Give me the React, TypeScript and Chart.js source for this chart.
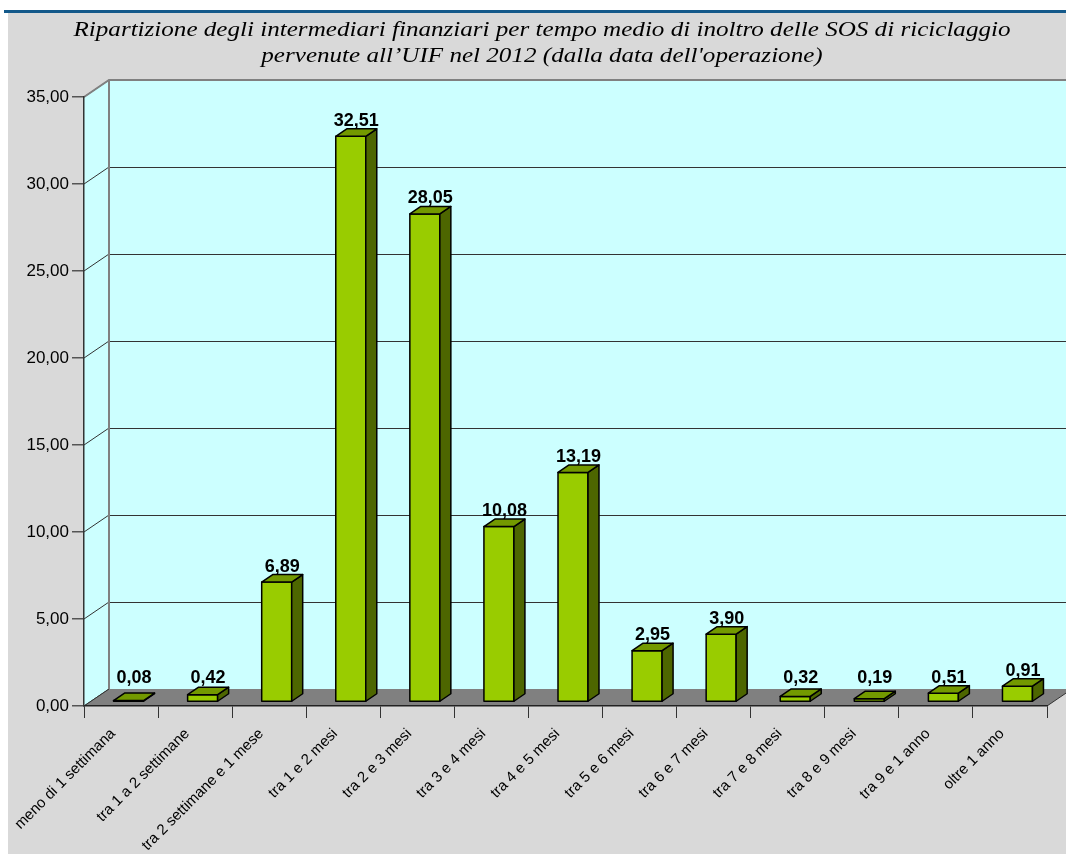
import React, { useEffect, useRef } from 'react';
import { Chart, registerables } from 'chart.js';

Chart.register(...registerables);

const categories: string[] = [
  'meno di 1 settimana',
  'tra 1 a 2 settimane',
  'tra 2 settimane e 1 mese',
  'tra 1 e 2 mesi',
  'tra 2 e 3 mesi',
  'tra 3 e 4 mesi',
  'tra 4 e 5 mesi',
  'tra 5 e 6 mesi',
  'tra 6 e 7 mesi',
  'tra 7 e 8 mesi',
  'tra 8 e 9 mesi',
  'tra 9 e 1 anno',
  'oltre 1 anno',
];

const values: number[] = [0.08, 0.42, 6.89, 32.51, 28.05, 10.08, 13.19, 2.95, 3.9, 0.32, 0.19, 0.51, 0.91];

const yMin = 0;
const yMax = 35;
const yStep = 5;

const titleLines: string[] = [
  'Ripartizione degli intermediari finanziari per tempo medio di inoltro delle SOS di riciclaggio',
  'pervenute all’UIF nel 2012 (dalla data dell\'operazione)',
];

const fmt = (v: number) => v.toFixed(2).replace('.', ',');

const W = 1066;
const H = 854;
const WALL_DX = 25;
const WALL_DY = 17;
const BAR_DX = 7.5;
const BAR_DY = 4;
const BAR_DEPTH_X = 11;
const BAR_DEPTH_Y = 7.5;

const threeD = {
  id: 'threeD',
  beforeDraw(chart: any) {
    const ctx: CanvasRenderingContext2D = chart.ctx;
    const { left, right, top, bottom } = chart.chartArea;
    const ys = chart.scales.y;
    ctx.save();
    ctx.fillStyle = '#ffffff';
    ctx.fillRect(0, 0, W, H);
    ctx.fillStyle = '#d9d9d9';
    ctx.fillRect(8, 13, W - 8, H - 13);
    ctx.fillStyle = '#13598a';
    ctx.fillRect(4, 10, W - 4, 3);

    // title
    ctx.font = 'italic 22px "Liberation Serif", "Times New Roman", serif';
    const w1 = ctx.measureText(titleLines[0]).width;
    const sx = 937 / w1;
    ctx.save();
    ctx.translate(542, 0);
    ctx.scale(sx, 1);
    ctx.fillStyle = '#000';
    ctx.textAlign = 'center';
    ctx.textBaseline = 'alphabetic';
    ctx.fillText(titleLines[0], 0, 36);
    ctx.fillText(titleLines[1], 0, 62);
    ctx.restore();

    const bl = left + WALL_DX;
    const br = right + WALL_DX;
    const bt = top - WALL_DY;
    const bb = bottom - WALL_DY;

    // back wall
    ctx.fillStyle = '#ccffff';
    ctx.fillRect(bl, bt, W - bl + 20, bb - bt);
    // left wall
    ctx.beginPath();
    ctx.moveTo(left, top);
    ctx.lineTo(bl, bt);
    ctx.lineTo(bl, bb);
    ctx.lineTo(left, bottom);
    ctx.closePath();
    ctx.fill();

    // gridlines
    for (let v = yMin; v <= yMax; v += yStep) {
      const yf = ys.getPixelForValue(v);
      const yb = yf - WALL_DY;
      ctx.strokeStyle = '#333';
      ctx.lineWidth = 1;
      if (v !== yMax) {
        ctx.beginPath();
        ctx.moveTo(bl, Math.round(yb) + 0.5);
        ctx.lineTo(W + 20, Math.round(yb) + 0.5);
        ctx.stroke();
      }
      ctx.beginPath();
      ctx.moveTo(left, yf);
      ctx.lineTo(bl, yb);
      ctx.stroke();
    }

    // floor
    ctx.fillStyle = '#808080';
    ctx.beginPath();
    ctx.moveTo(left, bottom);
    ctx.lineTo(bl, bb);
    ctx.lineTo(br, bb);
    ctx.lineTo(right, bottom);
    ctx.closePath();
    ctx.fill();
    ctx.strokeStyle = '#333';
    ctx.lineWidth = 1;
    ctx.beginPath();
    ctx.moveTo(left, bottom);
    ctx.lineTo(bl, bb);
    ctx.moveTo(right, bottom);
    ctx.lineTo(br, bb);
    ctx.stroke();

    // wall edges
    ctx.strokeStyle = '#808080';
    ctx.lineWidth = 2;
    ctx.beginPath();
    ctx.moveTo(left, top);
    ctx.lineTo(bl, bt);
    ctx.lineTo(W + 20, bt);
    ctx.moveTo(bl, bt);
    ctx.lineTo(bl, bb);
    ctx.stroke();
    ctx.restore();
  },
  afterDatasetsDraw(chart: any) {
    const ctx: CanvasRenderingContext2D = chart.ctx;
    const meta = chart.getDatasetMeta(0);
    const ys = chart.scales.y;
    const y0 = ys.getPixelForValue(0);
    ctx.save();
    ctx.lineWidth = 1.5;
    ctx.lineJoin = 'round';
    ctx.strokeStyle = '#000';
    meta.data.forEach((el: any, i: number) => {
      const p = el.getProps(['x', 'y', 'base', 'width'], true);
      const fx0 = p.x - p.width / 2 + BAR_DX;
      const fx1 = p.x + p.width / 2 + BAR_DX;
      const fy0 = p.y - BAR_DY;
      const fy1 = p.base - BAR_DY;
      // front
      ctx.fillStyle = '#99cc00';
      ctx.beginPath();
      ctx.rect(fx0, fy0, fx1 - fx0, fy1 - fy0);
      ctx.fill();
      ctx.stroke();
      // side
      ctx.fillStyle = '#4d6600';
      ctx.beginPath();
      ctx.moveTo(fx1, fy0);
      ctx.lineTo(fx1 + BAR_DEPTH_X, fy0 - BAR_DEPTH_Y);
      ctx.lineTo(fx1 + BAR_DEPTH_X, fy1 - BAR_DEPTH_Y);
      ctx.lineTo(fx1, fy1);
      ctx.closePath();
      ctx.fill();
      ctx.stroke();
      // top
      ctx.fillStyle = '#739900';
      ctx.beginPath();
      ctx.moveTo(fx0, fy0);
      ctx.lineTo(fx0 + BAR_DEPTH_X, fy0 - BAR_DEPTH_Y);
      ctx.lineTo(fx1 + BAR_DEPTH_X, fy0 - BAR_DEPTH_Y);
      ctx.lineTo(fx1, fy0);
      ctx.closePath();
      ctx.fill();
      ctx.stroke();
      // label
      const topBack = fy0 - BAR_DEPTH_Y;
      const ly = Math.min(topBack - 3, y0 - 23);
      ctx.fillStyle = '#000';
      ctx.font = 'bold 18px "Liberation Sans", Arial, sans-serif';
      ctx.textAlign = 'center';
      ctx.textBaseline = 'alphabetic';
      ctx.fillText(fmt(values[i]), (fx0 + fx1) / 2 + BAR_DEPTH_X / 2, ly);
    });
    ctx.restore();
  },
};

export default function App() {
  const ref = useRef<HTMLCanvasElement | null>(null);
  useEffect(() => {
    if (!ref.current) return;
    const chart = new Chart(ref.current, {
      type: 'bar',
      data: {
        labels: categories,
        datasets: [
          {
            data: values,
            backgroundColor: 'rgba(0,0,0,0)',
            borderWidth: 0,
            categoryPercentage: 1,
            barPercentage: 0.405,
          },
        ],
      },
      options: {
        responsive: false,
        animation: false,
        events: [],
        devicePixelRatio: 1,
        layout: { padding: { top: 97, right: 19, bottom: 0, left: 0 } },
        plugins: {
          legend: { display: false },
          tooltip: { enabled: false },
          title: { display: false },
        },
        scales: {
          x: {
            type: 'category',
            offset: true,
            grid: { offset: true, drawOnChartArea: false, tickLength: 12, color: '#333', lineWidth: 1 },
            border: { display: true, color: '#222', width: 1.5 },
            ticks: {
              autoSkip: false,
              maxRotation: 45,
              minRotation: 45,
              color: '#000',
              padding: 7,
              labelOffset: -8,
              font: { family: '"Liberation Sans", Arial, sans-serif', size: 15 },
            },
            afterFit: (s: any) => {
              s.height = 148;
            },
          },
          y: {
            min: yMin,
            max: yMax,
            grid: { drawOnChartArea: false, tickLength: 12, color: '#555', lineWidth: 1.5 },
            border: { display: true, color: '#333', width: 1.5 },
            ticks: {
              stepSize: yStep,
              color: '#000',
              padding: 3,
              font: { family: '"Liberation Sans", Arial, sans-serif', size: 17 },
              callback: (v: any) => fmt(Number(v)),
            },
            afterFit: (s: any) => {
              s.width = 84;
            },
          },
        },
      },
      plugins: [threeD],
    });
    return () => chart.destroy();
  }, []);
  return (
    <div style={{ position: 'absolute', left: 0, top: 0, width: W, height: H, overflow: 'hidden' }}>
      <canvas ref={ref} width={W} height={H} style={{ display: 'block', width: W, height: H }} />
    </div>
  );
}
